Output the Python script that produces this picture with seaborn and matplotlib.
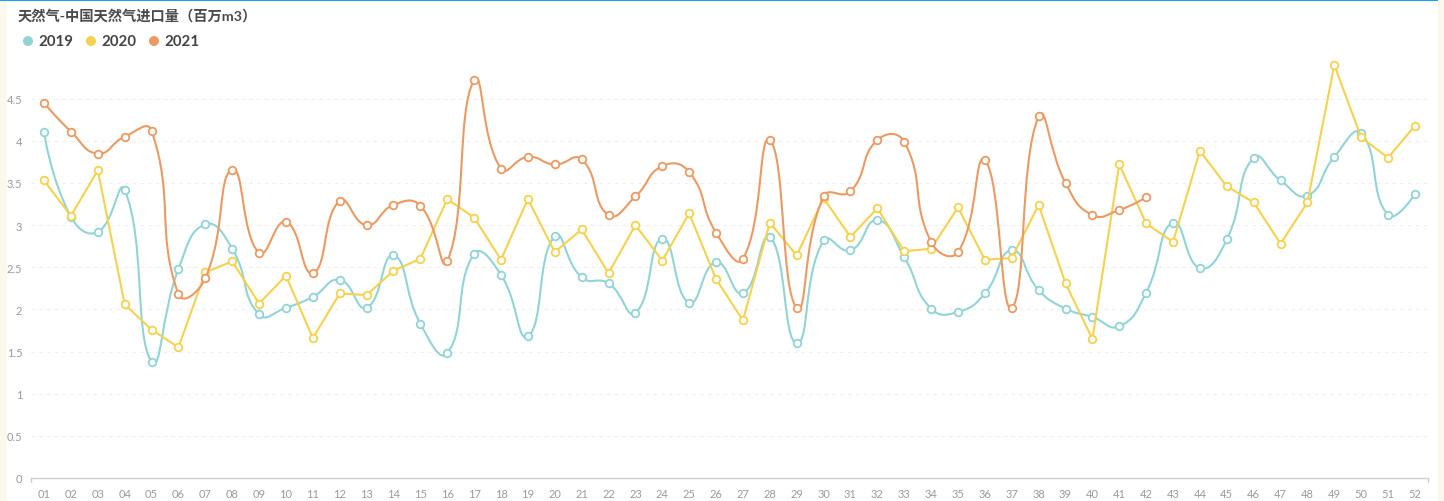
import numpy as np
import pandas as pd
import matplotlib
matplotlib.use("Agg")
import matplotlib.pyplot as plt
import seaborn as sns
from matplotlib.path import Path
from matplotlib.patches import PathPatch, Ellipse, Rectangle

weeks = [f"{i:02d}" for i in range(1, 53)]

y2019 = [4.10, 3.10, 2.92, 3.42, 1.38, 2.48, 3.01, 2.72, 1.94, 2.02,
         2.15, 2.35, 2.02, 2.64, 1.83, 1.48, 2.66, 2.41, 1.68, 2.87,
         2.38, 2.31, 1.96, 2.84, 2.08, 2.56, 2.19, 2.86, 1.60, 2.82,
         2.70, 3.06, 2.62, 2.01, 1.97, 2.19, 2.70, 2.23, 2.01, 1.91,
         1.80, 2.20, 3.03, 2.49, 2.83, 3.80, 3.53, 3.35, 3.81, 4.09,
         3.12, 3.37]
y2020 = [3.53, 3.11, 3.65, 2.06, 1.76, 1.55, 2.44, 2.57, 2.07, 2.40,
         1.66, 2.19, 2.17, 2.46, 2.60, 3.31, 3.09, 2.59, 3.31, 2.68,
         2.95, 2.43, 3.00, 2.58, 3.14, 2.36, 1.87, 3.03, 2.64, 3.32,
         2.86, 3.20, 2.69, 2.72, 3.21, 2.59, 2.61, 3.24, 2.31, 1.65,
         3.72, 3.02, 2.80, 3.88, 3.46, 3.27, 2.78, 3.27, 4.90, 4.04,
         3.80, 4.18]
y2021 = [4.45, 4.11, 3.85, 4.05, 4.12, 2.18, 2.37, 3.66, 2.67, 3.04,
         2.43, 3.29, 3.00, 3.24, 3.23, 2.57, 4.72, 3.67, 3.81, 3.72,
         3.78, 3.12, 3.34, 3.70, 3.63, 2.91, 2.60, 4.01, 2.02, 3.34,
         3.40, 4.01, 3.99, 2.80, 2.68, 3.77, 2.02, 4.29, 3.50, 3.12,
         3.18, 3.33]

series_names = ["2019", "2020", "2021"]
colors = {"2019": "#92d4d5", "2020": "#f5d24d", "2021": "#ea9a62"}
smooth_flags = {"2019": True, "2020": False, "2021": True}
yticks = [0, 0.5, 1, 1.5, 2, 2.5, 3, 3.5, 4, 4.5]
ytick_labels = ["0", "0.5", "1", "1.5", "2", "2.5", "3", "3.5", "4", "4.5"]
title = "天然气-中国天然气进口量（百万m3）"

rows = []
for name, vals in zip(series_names, [y2019, y2020, y2021]):
    for i, v in enumerate(vals):
        rows.append({"week": weeks[i], "idx": i, "value": v, "year": name})
df = pd.DataFrame(rows)

sns.set_theme(style="white")
plt.rcParams["font.family"] = ["Lato", "Noto Sans CJK SC", "DejaVu Sans"]

W, H = 1444, 502
fig = plt.figure(figsize=(W / 100, H / 100), dpi=100, facecolor="white")

# card decorations
fig.add_artist(Rectangle((0, 0), 7 / W, 1, transform=fig.transFigure,
                         facecolor="#fdf8ee", edgecolor="none", zorder=0))
fig.add_artist(Rectangle((1438 / W, 0), 6 / W, 1, transform=fig.transFigure,
                         facecolor="#fdf8ee", edgecolor="none", zorder=0))
fig.add_artist(Rectangle((0, 1 - 2 / H), 1438 / W, 2 / H, transform=fig.transFigure,
                         facecolor="#1aa3e8", edgecolor="none", zorder=5))

ax_l, ax_r = 30.6, 1428.4
ax_b, ax_t = 479, 66
ax = fig.add_axes([ax_l / W, 1 - ax_b / H, (ax_r - ax_l) / W, (ax_b - ax_t) / H])
ax.set_facecolor("none")

xmin, xmax = -0.5, 51.5
ymin, ymax = 0, 4.9
ax.set_xlim(xmin, xmax)
ax.set_ylim(ymin, ymax)

px_x = (ax_r - ax_l) / (xmax - xmin)
px_y = (ax_b - ax_t) / (ymax - ymin)


def smooth_path(xs, ys, smooth=0.5):
    X = np.asarray(xs, float) * px_x
    Y = np.asarray(ys, float) * px_y
    n = len(X)
    verts = [(X[0], Y[0])]
    codes = [Path.MOVETO]
    cps = []
    for i in range(n):
        if i == 0 or i == n - 1:
            cps.append(((X[i], Y[i]), (X[i], Y[i])))
            continue
        vx = X[i + 1] - X[i - 1]
        vy = Y[i + 1] - Y[i - 1]
        l0 = np.hypot(X[i] - X[i - 1], Y[i] - Y[i - 1])
        l1 = np.hypot(X[i + 1] - X[i], Y[i + 1] - Y[i])
        r = l1 / (l0 + l1) if (l0 + l1) > 0 else 0.5
        cin = (X[i] - vx * smooth * (1 - r), Y[i] - vy * smooth * (1 - r))
        cout = (X[i] + vx * smooth * r, Y[i] + vy * smooth * r)
        cps.append((cin, cout))
    for i in range(1, n):
        verts += [cps[i - 1][1], cps[i][0], (X[i], Y[i])]
        codes += [Path.CURVE4] * 3
    verts = [(vx_ / px_x, vy_ / px_y) for vx_, vy_ in verts]
    return Path(verts, codes)


# gridlines
for yt in yticks[1:]:
    ax.axhline(yt, color="#eeeeee", lw=0.8, ls=(0, (3, 4)), zorder=0)

for k, name in enumerate(series_names):
    sub = df[df["year"] == name]
    col = colors[name]
    if smooth_flags[name]:
        p = smooth_path(sub["idx"].values, sub["value"].values)
        ax.add_patch(PathPatch(p, facecolor="none", edgecolor=col, lw=1.5,
                               zorder=2 + k * 2, capstyle="round", joinstyle="round"))
    else:
        sns.lineplot(data=sub, x="idx", y="value", ax=ax, color=col, lw=1.5,
                     zorder=2 + k * 2, legend=False, estimator=None, sort=False)
    sns.scatterplot(data=sub, x="idx", y="value", ax=ax, s=30, marker="o",
                    facecolor="white", edgecolor=col, linewidth=1.3,
                    zorder=3 + k * 2, legend=False, clip_on=False)

sns.despine(ax=ax, left=True, top=True, right=True, bottom=False)
ax.spines["bottom"].set_color("#cfcfcf")
ax.spines["bottom"].set_linewidth(1.0)

ax.set_xticks(range(len(weeks)))
ax.set_xticklabels(weeks, fontsize=8, color="#9a9a9a")
ax.set_yticks(yticks)
ax.set_yticklabels(ytick_labels, fontsize=8, color="#9a9a9a")
ax.tick_params(axis="x", length=0, pad=7)
ax.tick_params(axis="y", length=0, pad=6)
ax.set_xlabel("")
ax.set_ylabel("")
ax.grid(False)

# end ticks of x axis
for xe in (xmin, xmax):
    ax.plot([xe, xe], [0, -4 / px_y], color="#cfcfcf", lw=1.0, clip_on=False, zorder=1)

# title
fig.text(18 / W, 1 - 16 / H, title, fontsize=10.3, fontweight="bold",
         color="#4a4a4a", ha="left", va="center",
         family=["Lato", "Noto Sans CJK SC", "DejaVu Sans"])

# legend
leg_items = [(28, 38), (91, 101), (154, 164)]
for (cx, tx), name in zip(leg_items, series_names):
    fig.add_artist(Ellipse((cx / W, 1 - 42 / H), 10 / W, 10 / H,
                           transform=fig.transFigure,
                           facecolor=colors[name], edgecolor="none"))
    fig.text(tx / W, 1 - 42 / H, name, fontsize=10.8, fontweight="bold",
             color="#444444", ha="left", va="center")

fig.savefig("out.png", dpi=100, facecolor="white")
